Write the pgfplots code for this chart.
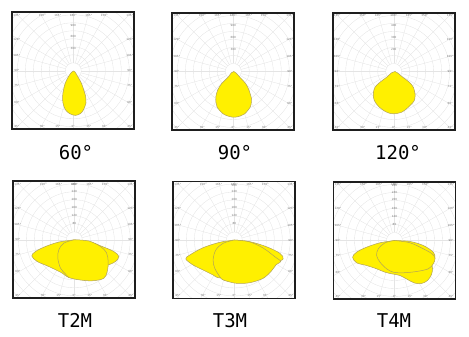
\documentclass[border=0pt]{standalone}
\usepackage{fontspec}
\setmainfont{DejaVu Sans}
\newfontfamily\lblfont{DejaVu Sans Mono}
\usepackage{pgfplots}
\pgfplotsset{compat=1.18}

\definecolor{ylw}{RGB}{255,240,0}
\definecolor{ylwline}{RGB}{178,162,90}
\definecolor{gridc}{RGB}{228,228,228}
\definecolor{framec}{RGB}{30,30,30}
\definecolor{lblc}{RGB}{120,120,120}

\tikzset{tl/.style={font=\fontsize{2.8}{3}\selectfont, text=lblc, inner sep=0pt}}

\pgfplotsset{
  panel/.style={scale only axis, width=122pt, height=117pt,
    xmin=-61, xmax=61, ymin=-58.5, ymax=58.5, axis on top,
    xtick=\empty, ytick=\empty, anchor=south west, clip=true,
    axis line style={line width=1.8pt, framec}},
  blob/.style={smooth, tension=0.55, fill=ylw, draw=ylwline, line width=0.5pt},
}

\newcommand{\polargrid}{%
  \pgfplotsinvokeforeach{8,16,...,88}{\draw[gridc, line width=0.35pt] (axis cs:0,0) circle[radius=##1];}
  \pgfplotsinvokeforeach{0,15,...,345}{\draw[gridc, line width=0.35pt] (axis cs:{8*cos(##1)},{8*sin(##1)}) -- (axis cs:{100*cos(##1)},{100*sin(##1)});}
  \node[tl] at (axis cs:-56.5,55.8) {135°};
  \node[tl] at (axis cs:-31,55.8) {150°};
  \node[tl] at (axis cs:-15.5,55.8) {165°};
  \node[tl] at (axis cs:0,55.8) {180°};
  \node[tl] at (axis cs:15.5,55.8) {165°};
  \node[tl] at (axis cs:31,55.8) {150°};
  \node[tl] at (axis cs:56.5,55.8) {135°};
  \node[tl] at (axis cs:-56.5,-55.8) {45°};
  \node[tl] at (axis cs:-31,-55.8) {30°};
  \node[tl] at (axis cs:-15.5,-55.8) {15°};
  \node[tl] at (axis cs:0,-55.8) {0°};
  \node[tl] at (axis cs:15.5,-55.8) {15°};
  \node[tl] at (axis cs:31,-55.8) {30°};
  \node[tl] at (axis cs:56.5,-55.8) {45°};
  \node[tl] at (axis cs:-56.5,31.7) {120°};
  \node[tl] at (axis cs:-56.5,15) {105°};
  \node[tl] at (axis cs:-56.5,0) {90°};
  \node[tl] at (axis cs:-56.5,-15) {75°};
  \node[tl] at (axis cs:-56.5,-31.7) {60°};
  \node[tl] at (axis cs:56.5,31.7) {120°};
  \node[tl] at (axis cs:56.5,15) {105°};
  \node[tl] at (axis cs:56.5,0) {90°};
  \node[tl] at (axis cs:56.5,-15) {75°};
  \node[tl] at (axis cs:56.5,-31.7) {60°};
}
\newcommand{\toplabels}[3]{%
  \node[tl] at (axis cs:0,22.5) {#1};
  \node[tl] at (axis cs:0,34.2) {#2};
  \node[tl] at (axis cs:0,45.8) {#3};
}
\newcommand{\botlabels}{%
  \node[tl] at (axis cs:0,16.5) {80};
  \node[tl] at (axis cs:0,24.2) {120};
  \node[tl] at (axis cs:0,32.5) {160};
  \node[tl] at (axis cs:0,40.6) {200};
  \node[tl] at (axis cs:0,48.3) {240};
  \node[tl] at (axis cs:0,55) {280};
}

\begin{document}
\begin{tikzpicture}
\useasboundingbox (0,0) rectangle (469pt,337pt);

% ---------- 60 deg ----------
\begin{axis}[panel, at={(12.3pt,207.7pt)}]
\polargrid
\toplabels{300}{600}{900}
\addplot[blob] coordinates {
 (12.7,-32.2) (12.3,-25.5) (10.3,-18.8) (8,-12.2) (4.3,-5.5) (2.4,-2.2) (0.3,-0.2)
 (-2.4,-2.2) (-4.7,-5.5) (-8,-12.2) (-9.7,-18.8) (-10.7,-25.5) (-10.3,-32.2)
 (-8,-38.8) (-3.7,-42.8) (2,-44.6) (7,-42.8) (10.3,-38.8) (12.7,-32.2)};
\end{axis}

% ---------- 90 deg ----------
\begin{axis}[panel, at={(172.3pt,207pt)}]
\polargrid
\toplabels{300}{600}{900}
\addplot[blob] coordinates {
 (18.2,-27) (15.8,-19) (12.5,-12.3) (6.5,-5.7) (2.8,-1.6) (0.5,0)
 (-2,-1.4) (-5.2,-5.7) (-11.8,-12.3) (-15.8,-19) (-17.5,-25.7) (-17.3,-31)
 (-16.2,-35.7) (-10.2,-42.3) (-4,-45) (1.5,-45.7) (7,-44.5) (11.5,-42.3)
 (16.8,-35.7) (18,-31) (18.2,-27)};
\end{axis}

% ---------- 120 deg ----------
\begin{axis}[panel, at={(332.7pt,207pt)}]
\polargrid
\toplabels{200}{300}{400}
\addplot[blob] coordinates {
 (21.3,-22.3) (19.6,-15.7) (15.6,-10.7) (9,-5.7) (4,-1.5) (1.3,0)
 (-2,-1.2) (-7,-5.7) (-13.7,-10.7) (-18.7,-15.7) (-20.4,-22.3) (-19.4,-29)
 (-14.4,-35.7) (-7,-40.7) (-0.4,-42.3) (8,-40.7) (14.6,-35.7) (20.6,-29) (21.3,-22.3)};
\end{axis}

% ---------- T2M ----------
\begin{axis}[panel, at={(13.3pt,38.7pt)}]
\polargrid
\botlabels
\addplot[blob] coordinates {
 (0,0) (-15.5,-2.3) (-28.8,-6.7) (-38.8,-11.7) (-42.5,-16.2) (-37.1,-21.7)
 (-25.5,-26.7) (-12.1,-33.3) (-5.5,-37.7) (5,-36) (20,-30) (34.5,-25)
 (41.2,-21.7) (44.5,-16.7) (39.5,-11.7) (27.9,-6.7) (16.2,-2.3) (0,0)};
\addplot[blob] coordinates {
 (0,0) (14.5,-1.2) (26.2,-6.7) (32.2,-13) (33.9,-22) (32.9,-31.7) (29.5,-38.5)
 (17.9,-41) (4.5,-40) (-5.5,-37.7) (-8.8,-34.3) (-13.8,-28.3) (-16.5,-18.3)
 (-15.5,-10) (-10.5,-3.3) (0,0)};
\end{axis}

% ---------- T3M ----------
\begin{axis}[panel, at={(173.3pt,38.5pt)}]
\polargrid
\botlabels
\addplot[blob] coordinates {
 (0,0) (-14.5,-2.3) (-31.2,-7.7) (-44.5,-15) (-48.5,-19) (-41.2,-25)
 (-31.2,-30) (-21.2,-35) (-15,-38) (0,-36) (20,-30) (40,-23)
 (48.8,-19) (45.5,-13.3) (32.1,-6.7) (15.5,-1.7) (0,0)};
\addplot[blob] coordinates {
 (0,0) (15,-1.8) (28.8,-8) (40.5,-16.7) (46.5,-21.5) (42,-24.5) (37.1,-31)
 (28.8,-38.3) (15.5,-42.7) (2,-43.3) (-11,-40) (-14.5,-36.7) (-19.5,-28.3)
 (-21.2,-20) (-18.5,-10) (-11.2,-3.3) (0,0)};
\end{axis}

% ---------- T4M ----------
\begin{axis}[panel, at={(333.5pt,38pt)}]
\polargrid
\botlabels
\addplot[blob] coordinates {
 (0,0) (-14.5,-2.3) (-27.9,-6.7) (-37.9,-11.7) (-41.9,-16.7) (-37.9,-22.3)
 (-27.9,-25) (-17.9,-28.3) (-9.5,-31.7) (-2,-33.5) (5.5,-35) (13,-39)
 (20,-42.5) (27,-43) (33,-40) (37,-34) (38,-28) (37.5,-23) (40.5,-17.7)
 (38.8,-11.7) (28.8,-5) (15.5,-1) (0,0)};
\addplot[blob] coordinates {
 (0,0) (15.5,-2.3) (28.8,-8.3) (37.5,-13.3) (40.5,-17.7) (38.8,-23.3)
 (33.8,-28.3) (22.1,-31) (8.8,-32.3) (-1.2,-31.7) (-7.9,-28.3) (-14.5,-21.7)
 (-17.9,-15) (-16.2,-8.3) (-9.5,-2.3) (0,0)};
\end{axis}

% ---------- captions ----------
\begin{scope}[every node/.style={font=\lblfont\fontsize{19}{19}\selectfont, anchor=base, inner sep=0pt}]
\node at (76pt,177.7pt) {60°};
\node at (235pt,177.7pt) {90°};
\node at (398pt,177.7pt) {120°};
\node at (75pt,9.3pt) {T2M};
\node at (230pt,9.3pt) {T3M};
\node at (394pt,9.3pt) {T4M};
\end{scope}
\end{tikzpicture}
\end{document}
